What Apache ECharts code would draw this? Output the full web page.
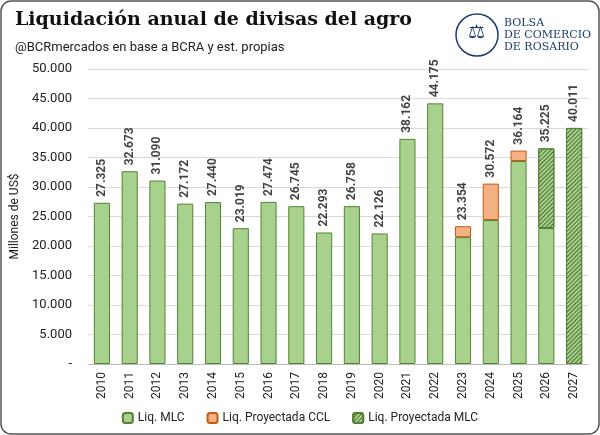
<!DOCTYPE html>
<html lang="es">
<head>
<meta charset="UTF-8">
<title>Liquidación anual de divisas del agro</title>
<style>
  html, body { margin: 0; padding: 0; background: #fff; }
  #chart { width: 600px; height: 435px; }
</style>
</head>
<body>
<div id="chart"></div>
<script src="https://cdn.jsdelivr.net/npm/echarts@6/dist/echarts.min.js"></script>
<script>
    const years = ['2010','2011','2012','2013','2014','2015','2016','2017','2018','2019','2020','2021','2022','2023','2024','2025','2026','2027'];
    const liqMLC = [27325, 32673, 31090, 27172, 27440, 23019, 27474, 26745, 22293, 26758, 22126, 38162, 44175, 21500, 24400, 34400, 23050, null];
    const liqProyCCL = [null, null, null, null, null, null, null, null, null, null, null, null, null, 1854, 6172, 1764, null, null];
    const liqProyMLC = [null, null, null, null, null, null, null, null, null, null, null, null, null, null, null, null, 13500, 40011];
    const totalLabels = ['27.325','32.673','31.090','27.172','27.440','23.019','27.474','26.745','22.293','26.758','22.126','38.162','44.175','23.354','30.572','36.164','35.225','40.011'];

    // top of each stacked bar, for the value labels
    const totals = years.map((y, i) => (liqMLC[i] || 0) + (liqProyCCL[i] || 0) + (liqProyMLC[i] || 0));

    const fmt = v => v === 0 ? '-' : v.toLocaleString('de-DE');

    const option = {
        animation: false,
        title: [{
            text: 'Liquidación anual de divisas del agro',
            left: 10, top: 6,
            textStyle: { fontFamily: 'DejaVu Serif', fontWeight: 'bold', fontSize: 19, color: '#111' }
        }, {
            text: '@BCRmercados en base a BCRA y est. propias',
            left: 10, top: 36,
            textStyle: { fontFamily: 'Roboto', fontWeight: 'normal', fontSize: 13, color: '#222' }
        }],
        graphic: [
            { type: 'rect', shape: { x: 1, y: 1, width: 598, height: 433, r: 10 },
              style: { fill: 'none', stroke: '#555', lineWidth: 1.5 } },
            { type: 'circle', shape: { cx: 477, cy: 35, r: 21 },
              style: { fill: '#fff', stroke: '#1f3c6e', lineWidth: 1.5 } },
            { type: 'text', left: 468, top: 23,
              style: { text: '⚖', fontSize: 19, fill: '#1f3c6e' } },
            { type: 'text', left: 504, top: 17,
              style: { text: 'BOLSA\nDE COMERCIO\nDE ROSARIO', fontFamily: 'DejaVu Serif', fontSize: 11,
                       lineHeight: 12, fill: '#1f3c6e' } }
        ],
        legend: {
            bottom: 6,
            itemWidth: 10, itemHeight: 10, itemGap: 22,
            textStyle: { fontFamily: 'Roboto', fontSize: 12, color: '#222' },
            data: ['Liq. MLC', 'Liq. Proyectada CCL', 'Liq. Proyectada MLC']
        },
        grid: { left: 88, right: 12, top: 69, bottom: 71 },
        xAxis: {
            type: 'category',
            data: years,
            axisTick: { show: false },
            axisLine: { lineStyle: { color: '#bbb' } },
            axisLabel: { rotate: 90, fontFamily: 'Roboto', fontSize: 12, color: '#222', margin: 8 }
        },
        yAxis: {
            type: 'value',
            name: 'Millones de US$',
            nameLocation: 'middle',
            nameGap: 64,
            nameTextStyle: { fontFamily: 'Roboto', fontSize: 12, color: '#222' },
            min: 0, max: 50000, interval: 5000,
            axisLabel: { formatter: fmt, fontFamily: 'Roboto', fontSize: 13, color: '#222', margin: 16 },
            splitLine: { lineStyle: { color: '#d9d9d9' } }
        },
        series: [{
            name: 'Liq. MLC',
            type: 'bar', stack: 'total',
            barWidth: '58%',
            data: liqMLC,
            itemStyle: { color: '#a9d18e', borderColor: '#548235', borderWidth: 1 }
        }, {
            name: 'Liq. Proyectada CCL',
            type: 'bar', stack: 'total',
            data: liqProyCCL,
            itemStyle: { color: '#f4b183', borderColor: '#c55a11', borderWidth: 1 }
        }, {
            name: 'Liq. Proyectada MLC',
            type: 'bar', stack: 'total',
            data: liqProyMLC,
            itemStyle: {
                color: '#a9d18e', borderColor: '#548235', borderWidth: 1,
                decal: { symbol: 'rect', symbolSize: 1, dashArrayX: [1, 0], dashArrayY: [1, 1.5],
                         rotation: -Math.PI / 4, color: '#4a6e32' }
            }
        }, {
            name: 'labels',
            type: 'scatter',
            data: totals,
            symbolSize: 0,
            silent: true,
            label: {
                show: true, position: 'top', rotate: 90, align: 'left', verticalAlign: 'middle',
                distance: 6,
                formatter: p => totalLabels[p.dataIndex],
                fontFamily: 'Roboto', fontWeight: 'bold', fontSize: 12, color: '#111'
            }
        }]
    };

    const chart = echarts.init(document.getElementById('chart'));
    chart.setOption(option);
</script>
</body>
</html>
